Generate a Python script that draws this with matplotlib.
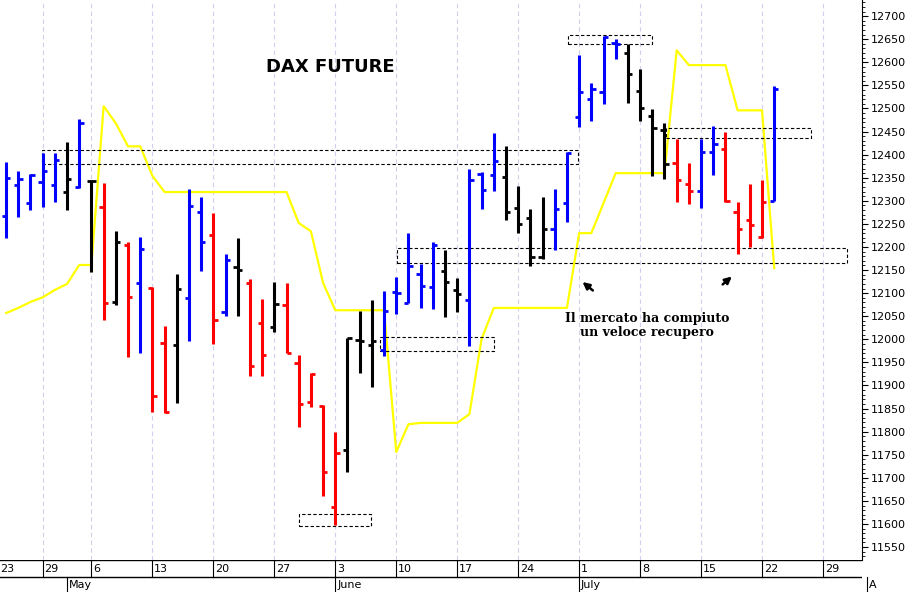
import matplotlib.pyplot as plt
from matplotlib.patches import Rectangle

# daily OHLC, DAX future, from 25 Apr to 23 Jul (trading-day index 0..63)
opens = [12267, 12334, 12295, 12341, 12334, 12319, 12330, 12343, 12286, 12081,
         12204, 12122, 12111, 11992, 11988, 12089, 12276, 12226, 12059, 12156,
         12122, 12035, 12027, 12074, 11949, 11864, 11856, 11637, 11760, 11998,
         11988, 11977, 12102, 12079, 12141, 12113, 12148, 12107, 12085, 12358,
         12356, 12351, 12284, 12263, 12178, 12239, 12295, 12481, 12520, 12535,
         12642, 12620, 12538, 12483, 12453, 12382, 12336, 12321, 12405, 12412,
         12276, 12258, 12221, 12299]
highs = [12384, 12364, 12358, 12403, 12403, 12427, 12477, 12345, 12338, 12234,
         12211, 12221, 12113, 12029, 12141, 12325, 12308, 12273, 12185, 12219,
         12130, 12087, 12124, 12122, 11966, 11927, 11858, 11799, 12003, 12061,
         12085, 12104, 12135, 12230, 12163, 12211, 12193, 12133, 12369, 12362,
         12447, 12418, 12332, 12282, 12308, 12325, 12405, 12616, 12555, 12657,
         12650, 12640, 12585, 12499, 12468, 12434, 12382, 12434, 12462, 12449,
         12297, 12336, 12345, 12548]
lows = [12219, 12265, 12280, 12286, 12297, 12280, 12328, 12146, 12042, 12074,
        11962, 11970, 11842, 11840, 11862, 11996, 12148, 11990, 12050, 12050,
        11920, 11920, 12016, 11970, 11810, 11853, 11661, 11598, 11713, 11927,
        11897, 11964, 12055, 12079, 12068, 12066, 12048, 12059, 11985, 12282,
        12321, 12258, 12230, 12159, 12174, 12193, 12254, 12460, 12473, 12509,
        12607, 12512, 12473, 12354, 12347, 12297, 12293, 12284, 12356, 12297,
        12185, 12200, 12219, 12299]
closes = [12349, 12347, 12356, 12364, 12388, 12347, 12468, 12343, 12079, 12211,
          12092, 12195, 11877, 11842, 12109, 12289, 12211, 12042, 12172, 12150,
          11942, 11966, 12076, 11970, 11860, 11925, 11713, 11754, 12003, 11996,
          11996, 12061, 12100, 12159, 12115, 12204, 12124, 12098, 12345, 12323,
          12386, 12276, 12250, 12178, 12239, 12282, 12403, 12535, 12542, 12655,
          12640, 12574, 12501, 12457, 12380, 12345, 12321, 12405, 12423, 12299,
          12239, 12247, 12297, 12542]
colors = list("bbbbbkbkrkrbrrkbbrbkrrkrrrrrkkkbbbbbkkbbbkkkkbbbbbbkkkkrrbbrrrrb")

yellow = [12057, 12068, 12081, 12091, 12107, 12120, 12161, 12161, 12505, 12468,
          12418, 12418, 12354, 12319, 12319, 12319, 12319, 12319, 12319, 12319,
          12319, 12319, 12319, 12319, 12252, 12234, 12122, 12063, 12063, 12063,
          12063, 12063, 11756, 11816, 11819, 11819, 11819, 11819, 11838, 12001,
          12068, 12068, 12068, 12068, 12068, 12068, 12068, 12230, 12230, 12295,
          12360, 12360, 12360, 12360, 12360, 12626, 12594, 12594, 12594, 12594,
          12496, 12496, 12496, 12154]

# dashed boxes: (start index, end index, low, high)
boxes = [(2.95, 46.9, 12380, 12410), (46.1, 53.0, 12639, 12659),
         (54.1, 66.0, 12436, 12457), (32.1, 69.0, 12165, 12198),
         (30.7, 40.0, 11975, 12005), (24.0, 29.9, 11596, 11622)]

week_pos = [3, 7, 12, 17, 22, 27, 32, 37, 42, 47, 52, 57, 62, 67]
week_lbl = ["29", "6", "13", "20", "27", "3", "10", "17", "24", "1", "8", "15", "22", "29"]
month_pos = [5, 27, 47, 70.6]
month_lbl = ["May", "June", "July", "A"]

cmap = {"b": "#0000ff", "k": "#000000", "r": "#ff0000"}

fig = plt.figure(figsize=(9.15, 5.92), dpi=100)
W, H = 915, 592
ax = fig.add_axes([0, 32 / H, 862 / W, 560 / H])
xlim = (-0.5, 70.2)
ax.set_xlim(*xlim)
ax.set_ylim(11522, 12735)

for p in week_pos:
    ax.axvline(p, color="#d0d0ee", lw=0.8, ls=(0, (4, 3)), zorder=0)

ax.plot(range(len(yellow)), yellow, color="#ffff00", lw=1.6, zorder=1)

for i in range(len(opens)):
    c = cmap[colors[i]]
    ax.plot([i, i], [lows[i], highs[i]], color=c, lw=2.2, solid_capstyle="butt", zorder=3)
    ax.plot([i - 0.35, i], [opens[i], opens[i]], color=c, lw=2, solid_capstyle="butt", zorder=3)
    ax.plot([i, i + 0.35], [closes[i], closes[i]], color=c, lw=2, solid_capstyle="butt", zorder=3)

for x0, x1, lo, hi in boxes:
    ax.add_patch(Rectangle((x0, lo), x1 - x0, hi - lo, fill=False, ec="black",
                           lw=0.8, ls=(0, (3, 2)), zorder=2))

ax.text(26.6, 12590, "DAX FUTURE", fontsize=13, fontweight="bold", ha="center", va="center")
ax.text(52.6, 12029, "Il mercato ha compiuto\nun veloce recupero", family="DejaVu Serif",
        fontsize=9, fontweight="bold", ha="center", va="center", linespacing=1.1)
ax.annotate("", xy=(47.1, 12128), xytext=(48.3, 12102),
            arrowprops=dict(arrowstyle="-|>", color="black", lw=1.8, mutation_scale=10))
ax.annotate("", xy=(59.7, 12140), xytext=(58.6, 12115),
            arrowprops=dict(arrowstyle="-|>", color="black", lw=1.8, mutation_scale=10))

ax.set_xticks([])
ax.yaxis.tick_right()
ax.set_yticks(range(11550, 12701, 50))
ax.set_yticks(range(11530, 12731, 10), minor=True)
ax.tick_params(axis="y", labelsize=8, length=4, pad=2)
ax.tick_params(axis="y", which="minor", length=2)
for lab in ax.get_yticklabels():
    lab.set_family(["Liberation Sans Narrow", "DejaVu Sans"])
for s in ["top", "left", "bottom"]:
    ax.spines[s].set_visible(False)

# date strip
ax2 = fig.add_axes([0, 0, 862 / W, 32 / H])
ax2.set_xlim(*xlim)
ax2.set_ylim(0, 2)
ax2.axis("off")
ax2.axhline(2, color="black", lw=1)
ax2.axhline(0.95, color="black", lw=1)
for p, t in zip(week_pos, week_lbl):
    ax2.plot([p, p], [0.95, 2], color="black", lw=0.8)
    ax2.text(p + 0.15, 1.45, t, fontsize=8, va="center", ha="left",
             family=["Liberation Sans Narrow", "DejaVu Sans"])
ax2.text(-0.45, 1.45, "23", fontsize=8, va="center", ha="left",
         family=["Liberation Sans Narrow", "DejaVu Sans"])
for p, t in zip(month_pos, month_lbl):
    ax2.plot([p, p], [0, 0.95], color="black", lw=0.8, clip_on=False)
    ax2.text(p + 0.15, 0.45, t, fontsize=8, va="center", ha="left", clip_on=False,
             family=["Liberation Sans Narrow", "DejaVu Sans"])

fig.savefig("out.png", dpi=100)
